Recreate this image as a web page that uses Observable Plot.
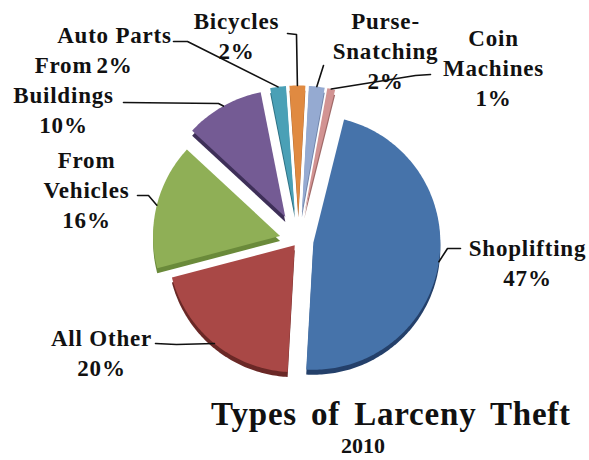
<!DOCTYPE html>
<html><head><meta charset="utf-8">
<script src="https://cdn.jsdelivr.net/npm/d3@7"></script>
<script src="https://cdn.jsdelivr.net/npm/@observablehq/plot@0.6"></script>
<style>
body{margin:0;background:#fff;font-family:"Liberation Serif","DejaVu Serif",serif;width:589px;height:460px;overflow:hidden}
#chart svg{display:block}
#chart svg text{letter-spacing:0.8px}
.title{font-weight:bold;font-size:33px;line-height:36px;letter-spacing:0.8px;word-spacing:5px;padding-left:193px;width:396px;text-align:center;white-space:nowrap;color:#111}
.sub{font-weight:bold;font-size:22px;line-height:24px;margin-top:1.5px;padding-left:137px;width:452px;text-align:center;color:#111}
</style></head><body>
<div id="chart"></div>
<div class="title">Types of Larceny Theft</div>
<div class="sub">2010</div>
<script>
// ---- data ----
const categories = ["Shoplifting","All Other","From Vehicles","From Buildings","Auto Parts","Bicycles","Purse-Snatching","Coin Machines"];
const values = [47, 20, 16, 10, 2, 2, 2, 1];
const labelLines = [["Shoplifting"],["All Other"],["From","Vehicles"],["From","Buildings"],["Auto Parts"],["Bicycles"],["Purse-","Snatching"],["Coin","Machines"]];

// ---- styles ----
const colors = ["#4673AA","#A94846","#8FAF56","#745B94","#4AA0B6","#E08A41","#95AAD1","#D29392"];
const sideColors = ["#24406A","#6A2826","#6A8A3A","#3E2F58","#2E7184","#A8612A","#6E82A8","#A06A69"];
const explode = [15, 6, 19, 27, 28, 28, 28, 28];
const FONT = '"Liberation Serif","DejaVu Serif",serif';

// ---- layout ----
const W = 589, H = 396, CX = 298, CY = 240, R = 127, START = 14, DEPTH = 5, LINE = 30;
const labelAnchors = [[527,255],[101,345],[86,167],[63,72],[114,42],[236,28],[385,28],[493,45]];
const leaderElbows = [[[460,248],[447,248]],[[155,343],[176,344]],[[137,195],[148,195]],[[123,102],[218,103]],[[173,41],[187,41]],[[287,33],[296,34]],[[323,65]],[[430,74],[415,75]]];

const rad = Math.PI / 180;
const arcs = d3.pie().sort(null).startAngle(START * rad).endAngle(START * rad + 2 * Math.PI)(values);

const faces = [];
const apexes = [];
arcs.forEach((a, i) => {
  const mid = (a.startAngle + a.endAngle) / 2;
  const ax = CX + explode[i] * Math.sin(mid), ay = CY - explode[i] * Math.cos(mid);
  apexes.push({ax, ay, mid});
  faces.push({slice: i, x: ax, y: ay});
  const n = Math.max(4, Math.ceil((a.endAngle - a.startAngle) / rad));
  for (let k = 0; k <= n; k++) {
    const t = a.startAngle + (a.endAngle - a.startAngle) * k / n;
    faces.push({slice: i, x: ax + R * Math.sin(t), y: ay - R * Math.cos(t)});
  }
});

const leaders = [];
apexes.forEach(({ax, ay, mid}, i) => {
  leaderElbows[i].forEach(([x, y]) => leaders.push({slice: i, x, y}));
  leaders.push({slice: i, x: ax + R * Math.sin(mid), y: ay - R * Math.cos(mid)});
});

const texts = [];
categories.forEach((c, i) => {
  const lines = [...labelLines[i], values[i] + "%"];
  lines.forEach((s, j) => texts.push({text: s, x: labelAnchors[i][0], y: labelAnchors[i][1] + j * LINE}));
});

const chart = Plot.plot({
  width: W, height: H,
  margin: 0,
  style: {fontFamily: FONT},
  x: {domain: [0, W], range: [0, W], axis: null},
  y: {domain: [0, H], range: [0, H], axis: null},
  color: {type: "identity"},
  marks: [
    Plot.line(faces, {x: "x", y: d => d.y + DEPTH, z: "slice", fill: d => sideColors[d.slice], stroke: "none", curve: "linear-closed"}),
    Plot.line(faces, {x: "x", y: "y", z: "slice", fill: d => colors[d.slice], stroke: "none", curve: "linear-closed"}),
    Plot.text(texts, {x: "x", y: "y", text: "text", lineAnchor: "bottom", textAnchor: "middle", fontSize: 23, fontWeight: "bold", fontFamily: FONT, fill: "#111"}),
    Plot.line(leaders, {x: "x", y: "y", z: "slice", stroke: "#111", strokeWidth: 1.6})
  ]
});
document.getElementById("chart").appendChild(chart);
</script>
</body></html>
